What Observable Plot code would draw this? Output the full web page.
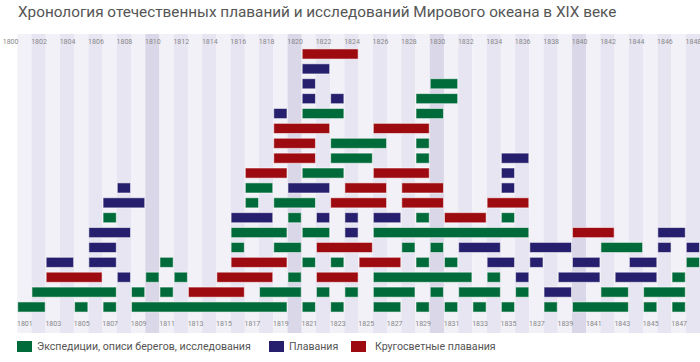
<!DOCTYPE html>
<html><head><meta charset="utf-8">
<script src="https://cdn.jsdelivr.net/npm/d3@7"></script>
<script src="https://cdn.jsdelivr.net/npm/@observablehq/plot@0.6"></script>
<style>
body{margin:0;background:#fff;font-family:Roboto,sans-serif;}
#title{height:25px;line-height:25px;font-size:15.3px;color:#555;padding-left:18px;white-space:nowrap;}
#legend{position:relative;height:24px;font-size:10.6px;color:#555;}
#legend .sw{position:absolute;top:4px;width:15px;height:11px;}
#legend .lb{position:absolute;top:0;line-height:19px;white-space:nowrap;}
</style>
</head><body>
<div id="title">Хронология отечественных плаваний и исследований Мирового океана в XIX веке</div>
<div id="chart"></div>
<div id="legend"></div>
<script>
// Categories & colours
const categories = ["Экспедиции, описи берегов, исследования", "Плавания", "Кругосветные плавания"];
const catColors = ["#006b3a", "#261f6d", "#9d0a10"];

// Year tick labels
const topYears = [1800,1802,1804,1806,1808,1810,1812,1814,1816,1818,1820,1822,1824,1826,1828,1830,1832,1834,1836,1838,1840,1842,1844,1846,1848];
const bottomYears = [1801,1803,1805,1807,1809,1811,1813,1815,1817,1819,1821,1823,1825,1827,1829,1831,1833,1835,1837,1839,1841,1843,1845,1847];
const stripeYears = d3.range(1801, 1849);

// [row, startYear, endYear(exclusive)]
const expeditions = [
  [0,1801,1803],[0,1805,1806],[0,1807,1808],[0,1809,1820],[0,1821,1822],[0,1823,1824],[0,1826,1828],[0,1829,1830],[0,1831,1832],[0,1833,1834],[0,1835,1836],[0,1838,1839],[0,1840,1844],[0,1845,1846],[0,1847,1848],
  [1,1802,1808],[1,1809,1810],[1,1811,1812],[1,1818,1821],[1,1822,1823],[1,1824,1825],[1,1826,1829],[1,1830,1831],[1,1832,1835],[1,1836,1837],[1,1842,1844],[1,1845,1848],
  [2,1810,1811],[2,1812,1813],[2,1820,1821],[2,1826,1833],[2,1834,1835],[2,1847,1848],
  [3,1811,1812],[3,1821,1822],[3,1823,1824],[3,1829,1830],[3,1831,1832],[3,1848,1849],
  [4,1816,1817],[4,1819,1821],[4,1828,1829],[4,1830,1831],[4,1842,1845],
  [5,1816,1820],[5,1821,1823],[5,1826,1837],
  [6,1807,1808],[6,1820,1821],[6,1829,1830],[6,1835,1836],
  [7,1817,1818],[7,1819,1822],
  [8,1817,1819],
  [9,1821,1824],
  [10,1823,1826],[10,1829,1830],
  [11,1823,1827],[11,1829,1830],
  [13,1821,1824],[13,1829,1831],
  [14,1829,1832],
  [15,1830,1832]
];
const voyages = [
  [1,1838,1840],
  [2,1808,1809],[2,1836,1837],[2,1839,1842],[2,1843,1846],
  [3,1803,1805],[3,1806,1808],[3,1834,1836],[3,1837,1838],[3,1840,1842],[3,1844,1846],
  [4,1806,1808],[4,1832,1835],[4,1837,1840],[4,1846,1847],[4,1848,1849],
  [5,1806,1809],[5,1824,1825],[5,1846,1848],
  [6,1816,1819],[6,1822,1823],[6,1824,1825],[6,1826,1828],
  [7,1807,1810],
  [8,1808,1809],[8,1820,1823],[8,1835,1836],
  [9,1835,1836],
  [10,1835,1837],
  [13,1819,1820],
  [14,1821,1822],[14,1823,1824],
  [15,1821,1822],
  [16,1821,1823]
];
const circumnavigations = [
  [1,1813,1817],
  [2,1803,1807],[2,1815,1819],[2,1822,1825],
  [3,1816,1820],[3,1825,1828],
  [4,1822,1826],
  [5,1840,1843],
  [6,1831,1834],
  [7,1823,1827],[7,1828,1831],[7,1834,1837],
  [8,1824,1827],[8,1828,1831],
  [9,1817,1820],[9,1826,1830],
  [10,1819,1822],
  [11,1819,1822],
  [12,1819,1823],[12,1826,1830],
  [17,1821,1825]
];

const bars = [];
[expeditions, voyages, circumnavigations].forEach((arr, i) => {
  for (const [row, start, end] of arr) bars.push({row, start, end, cat: i});
});

const stripeFill = y => y % 10 === 0 ? "#dad7e9" : (y % 2 === 0 ? "#e7e5f2" : "#f2f1f8");

const chart = Plot.plot({
  width: 700, height: 312,
  marginTop: 9, marginBottom: 4, marginLeft: 0, marginRight: 0,
  x: {domain: [1800, 1849], range: [3, 700], axis: null},
  y: {domain: [0, 17], range: [282, 29], axis: null},
  color: {type: "identity"},
  marks: [
    Plot.rect(stripeYears, {x1: d => d, x2: d => d + 1, fill: d => stripeFill(d)}),
    Plot.text(topYears, {x: d => d + 0.5, frameAnchor: "top", dy: 5, text: d => String(d), fontSize: 7, fill: "#888", fontFamily: "Roboto"}),
    Plot.text(bottomYears, {x: d => d + 0.5, frameAnchor: "bottom", dy: -8, text: d => String(d), fontSize: 7, fill: "#888", fontFamily: "Roboto"}),
    Plot.rect(bars, {x1: "start", x2: "end", y1: d => d.row - 0.34, y2: d => d.row + 0.34, fill: d => catColors[d.cat], stroke: "white", strokeOpacity: 0.55, strokeWidth: 1, insetLeft: 0.5, insetRight: 0.5})
  ]
});
document.getElementById("chart").append(chart);

const legend = document.getElementById("legend");
const pos = [[17, 37], [269, 289], [351, 375]];
categories.forEach((c, i) => {
  const sw = document.createElement("div");
  sw.className = "sw"; sw.style.left = pos[i][0] + "px"; sw.style.background = catColors[i];
  const lb = document.createElement("div");
  lb.className = "lb"; lb.style.left = pos[i][1] + "px"; lb.textContent = c;
  legend.append(sw, lb);
});
</script>
</body></html>
